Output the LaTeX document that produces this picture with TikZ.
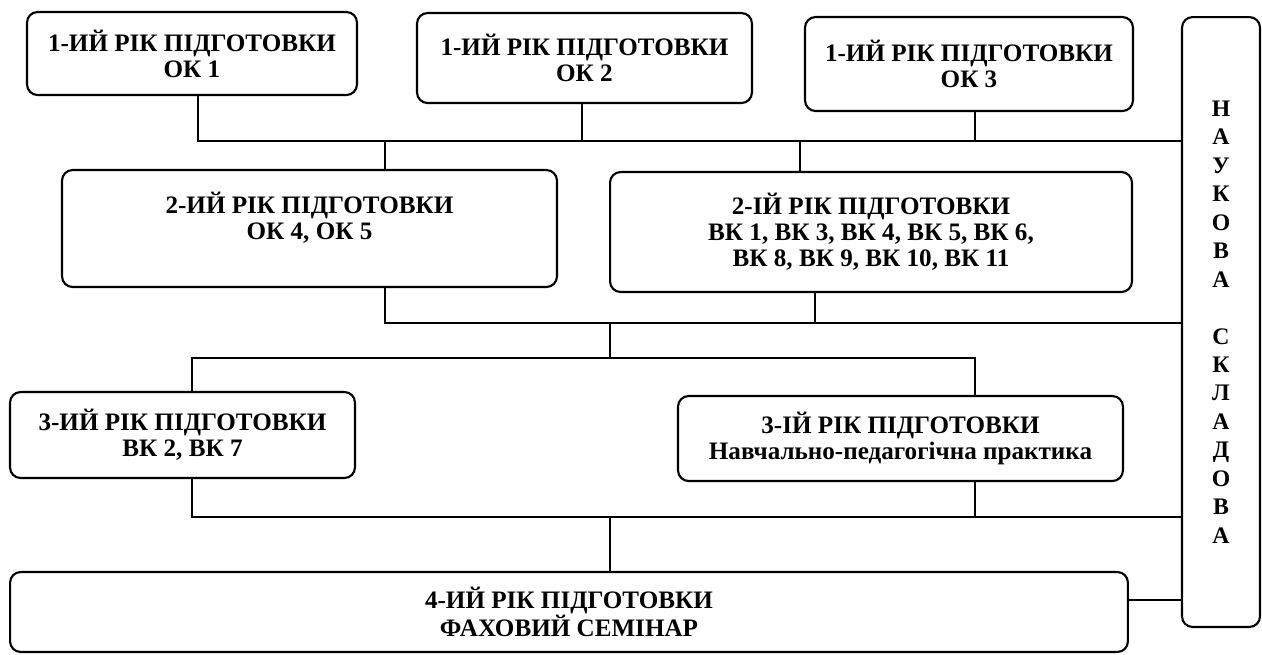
\documentclass[tikz,border=0pt]{standalone}
\usepackage{fontspec}
\setmainfont{Liberation Serif}
\usetikzlibrary{positioning}

\begin{document}
\begin{tikzpicture}[x=0.02cm, y=-0.02cm]

\tikzset{stage/.style = {draw, rounded corners=6pt, line width=1.2pt, align=center, inner sep=0pt, font=\fontsize{14.3}{14.8}\selectfont\bfseries}}
\tikzset{link/.style = {line width=1pt}}
\useasboundingbox (0,0) rectangle (1262,654);

%boxes
\node[stage, minimum width=6.6cm, minimum height=1.66cm] (ok1) at (192,53.5) {1-ИЙ РІК ПІДГОТОВКИ\\ОК 1};
\node[stage, minimum width=6.7cm, minimum height=1.8cm] (ok2) at (584.5,58) {1-ИЙ РІК ПІДГОТОВКИ\\ОК 2};
\node[stage, minimum width=6.56cm, minimum height=1.88cm] (ok3) at (969,64) {1-ИЙ РІК ПІДГОТОВКИ\\ОК 3};
\node[stage, minimum width=1.56cm, minimum height=12.2cm, font=\fontsize{13.5}{16.2}\selectfont\bfseries] (nauk) at (1221,322)
  {Н\\А\\У\\К\\О\\В\\А\\ \mbox{}\\С\\К\\Л\\А\\Д\\О\\В\\А};
\node[stage, minimum width=9.9cm, minimum height=2.34cm] (ok45) at (309.5,228.5) {2-ИЙ РІК ПІДГОТОВКИ\\ОК 4, ОК 5\\ \mbox{}};
\node[stage, minimum width=10.44cm, minimum height=2.4cm] (vk) at (871,232) {2-ІЙ РІК ПІДГОТОВКИ\\ВК 1, ВК 3, ВК 4, ВК 5, ВК 6,\\ВК 8, ВК 9, ВК 10, ВК 11};
\node[stage, minimum width=6.9cm, minimum height=1.72cm] (vk27) at (182.5,435) {3-ИЙ РІК ПІДГОТОВКИ\\ВК 2, ВК 7};
\node[stage, minimum width=8.9cm, minimum height=1.7cm] (prak) at (900.5,438.5) {3-ІЙ РІК ПІДГОТОВКИ\\Навчально-педагогічна практика};
\node[stage, minimum width=22.36cm, minimum height=1.6cm] (sem) at (569,612) {4-ИЙ РІК ПІДГОТОВКИ\\ФАХОВИЙ СЕМІНАР};

%junctions
\coordinate (b1) at (385,141);
\coordinate (b1r) at (800,141);
\coordinate (b2) at (385,323);
\coordinate (b2r) at (815,323);
\coordinate (m2) at (610,323);
\coordinate (l3) at (192,358);
\coordinate (r3) at (975,358);
\coordinate (l4) at (192,517);
\coordinate (r4) at (975,517);
\coordinate (m4) at (610,517);

%lines
\draw[link] ([xshift=0.12cm]ok1.south) |- (nauk.west |- b1);
\draw[link] ([xshift=-0.05cm]ok2.south) -- ([xshift=-0.05cm]ok2.south |- b1);
\draw[link] ([xshift=0.12cm]ok3.south) -- ([xshift=0.12cm]ok3.south |- b1);
\draw[link] (b1) -- (b1 |- ok45.north);
\draw[link] (b1r) -- (b1r |- vk.north);
\draw[link] (b2 |- ok45.south) -- (b2) -- (nauk.west |- b2);
\draw[link] (b2r |- vk.south) -- (b2r);
\draw[link] (m2) -- (m2 |- l3);
\draw[link] (l3 |- vk27.north) -- (l3) -- (r3) -- (r3 |- prak.north);
\draw[link] (l4 |- vk27.south) -- (l4) -- (nauk.west |- l4);
\draw[link] (r4 |- prak.south) -- (r4);
\draw[link] (m4) -- (m4 |- sem.north);
\draw[link] ([yshift=0.24cm]sem.east) -- ([yshift=0.24cm]sem.east -| nauk.west);

\end{tikzpicture}
\end{document}
